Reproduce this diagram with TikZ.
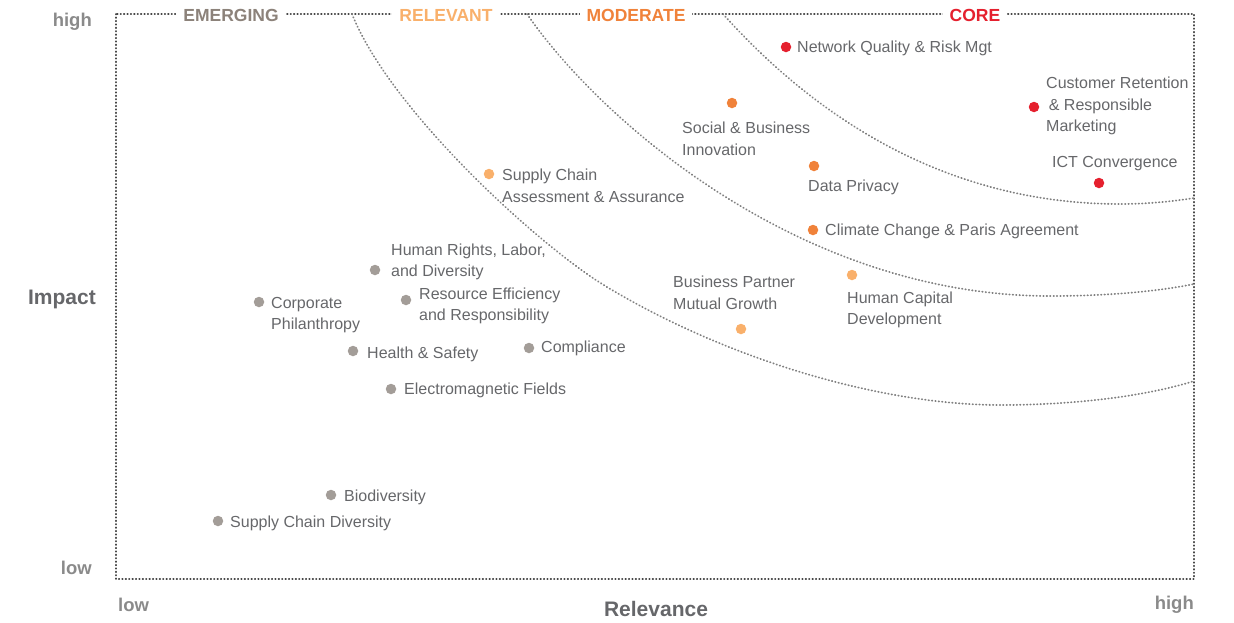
\documentclass[tikz,border=0pt]{standalone}
\usepackage{fontspec}
\setmainfont{Liberation Sans}
\usepackage{tikz}

\definecolor{txtgray}{HTML}{66676A}
\definecolor{axgray}{HTML}{8A8A8A}
\definecolor{dotgray}{HTML}{A39D98}
\definecolor{emgray}{HTML}{8C827A}
\definecolor{relorange}{HTML}{F9B06B}
\definecolor{modorange}{HTML}{F0823A}
\definecolor{corered}{HTML}{E5202E}

\begin{document}
\begin{tikzpicture}[x=1pt,y=-1pt,
    mdot/.style={circle,fill=#1,inner sep=0pt,minimum size=10.5pt},
    lbl/.style={anchor=west,inner sep=0pt,align=left,text=txtgray,font=\fontsize{16}{21.5}\selectfont},
    head/.style={fill=white,inner xsep=7pt,inner ysep=3pt,text=#1,font=\bfseries\fontsize{17.5}{20}\selectfont},
    axlbl/.style={inner sep=0pt,text=axgray,font=\bfseries\fontsize{18.5}{22}\selectfont},
    axname/.style={inner sep=0pt,text=txtgray,font=\bfseries\fontsize{21}{24}\selectfont},
    band/.style={draw=#1,line width=1.8pt,line cap=round,dash pattern=on 0.5pt off 2.9pt}]
    \useasboundingbox (0,0) rectangle (1234,622);

    % Frame
    \draw[band=black!72] (116,14) rectangle (1194,579);

    % Boundaries between the four zones
    \draw[band=black!50] (352,14) .. controls (390,110) and (540,247) .. (607,287)
        .. controls (727,359) and (880,405) .. (1000,405)
        .. controls (1080,405) and (1150,395) .. (1194,381);
    \draw[band=black!50] (527,14) .. controls (600,120) and (800,296) .. (1050,296)
        .. controls (1110,296) and (1160,291) .. (1194,284);
    \draw[band=black!50] (723,14) .. controls (800,100) and (930,204) .. (1120,204)
        .. controls (1150,204) and (1175,201) .. (1194,198);

    % Zone names
    \node[head=emgray] (emerging) at (231,15) {EMERGING};
    \node[head=relorange] (relevant) at (446,15) {RELEVANT};
    \node[head=modorange] (moderate) at (636,15) {MODERATE};
    \node[head=corered] (core) at (975,15) {CORE};

    % Axes
    \node[axlbl,anchor=east] (ihigh) at (92,22) {high};
    \node[axlbl,anchor=east] (ilow) at (92,568) {low};
    \node[axname] (impact) at (62,299) {Impact};
    \node[axlbl,anchor=west] (rlow) at (118,605) {low};
    \node[axlbl,anchor=east] (rhigh) at (1194,605) {high};
    \node[axname] (relevance) at (656,609) {Relevance};

    % Core
    \node[mdot=corered] (nq) at (786,47) {};
    \node[lbl] (nqt) at (797,48) {Network Quality \& Risk Mgt};
    \node[mdot=corered] (cr) at (1034,107) {};
    \node[lbl] (crt) at (1046,106) {Customer Retention\\\,\& Responsible\\Marketing};
    \node[mdot=corered] (ict) at (1099,183) {};
    \node[lbl] (ictt) at (1052,164) {ICT Convergence};

    % Moderate
    \node[mdot=modorange] (sb) at (732,103) {};
    \node[lbl] (sbt) at (682,139) {Social \& Business\\Innovation};
    \node[mdot=modorange] (dp) at (814,166) {};
    \node[lbl] (dpt) at (808,187) {Data Privacy};
    \node[mdot=modorange] (cc) at (813,230) {};
    \node[lbl] (cct) at (825,231) {Climate Change \& Paris Agreement};

    % Relevant
    \node[mdot=relorange] (sca) at (489,174) {};
    \node[lbl] (scat) at (502,186) {Supply Chain\\Assessment \& Assurance};
    \node[mdot=relorange] (hc) at (852,275) {};
    \node[lbl] (hct) at (847,310) {Human Capital\\Development};
    \node[mdot=relorange] (bp) at (741,329) {};
    \node[lbl] (bpt) at (673,293) {Business Partner\\Mutual Growth};

    % Emerging
    \node[mdot=dotgray] (hr) at (375,270) {};
    \node[lbl] (hrt) at (391,262) {Human Rights, Labor,\\and Diversity};
    \node[mdot=dotgray] (re) at (406,300) {};
    \node[lbl] (ret) at (419,306) {Resource Efficiency\\and Responsibility};
    \node[mdot=dotgray] (cp) at (259,302) {};
    \node[lbl] (cpt) at (271,315) {Corporate\\Philanthropy};
    \node[mdot=dotgray] (hs) at (353,351) {};
    \node[lbl] (hst) at (367,354) {Health \& Safety};
    \node[mdot=dotgray] (co) at (529,348) {};
    \node[lbl] (cot) at (541,348) {Compliance};
    \node[mdot=dotgray] (em) at (391,389) {};
    \node[lbl] (emt) at (404,390) {Electromagnetic Fields};
    \node[mdot=dotgray] (bd) at (331,495) {};
    \node[lbl] (bdt) at (344,497) {Biodiversity};
    \node[mdot=dotgray] (sd) at (218,521) {};
    \node[lbl] (sdt) at (230,523) {Supply Chain Diversity};
\end{tikzpicture}
\end{document}
